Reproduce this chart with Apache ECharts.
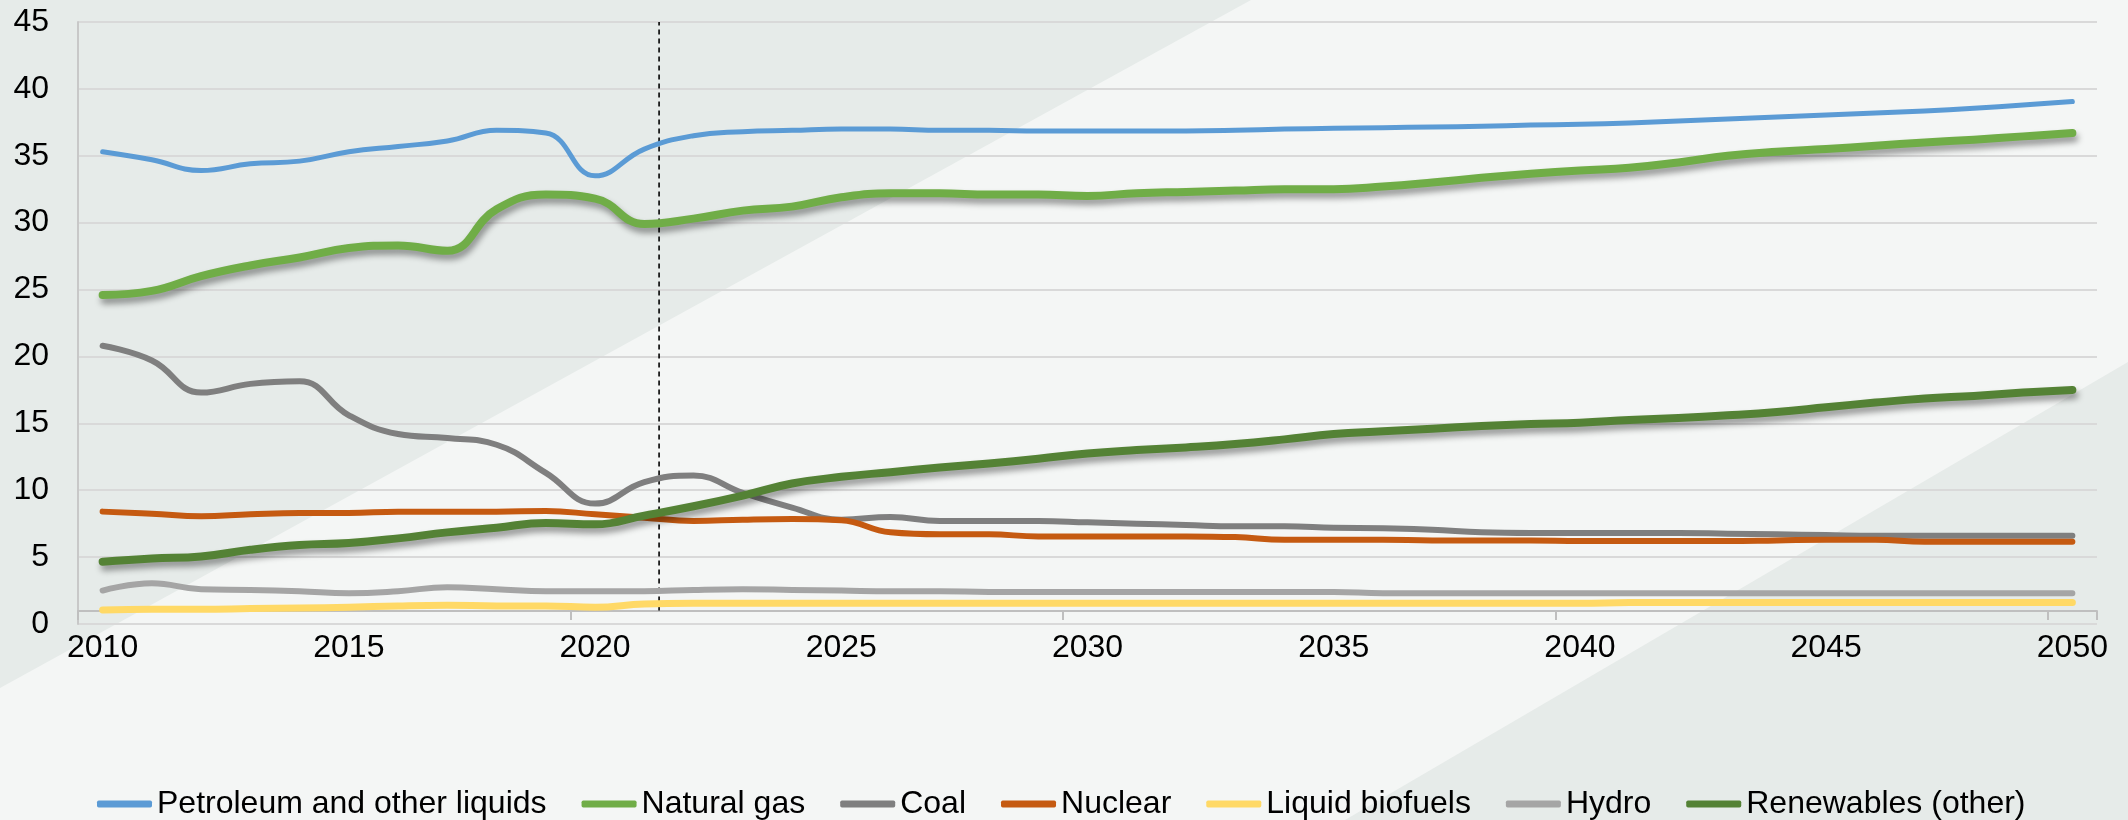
<!DOCTYPE html>
<html>
<head>
<meta charset="utf-8">
<script src="https://cdn.jsdelivr.net/npm/echarts@6/dist/echarts.min.js"></script>
<style>
html,body{margin:0;padding:0;background:#f4f6f5;}
#chart{width:2128px;height:820px;}
</style>
</head>
<body>
<div id="chart"></div>
<script>
const years = [];
for (let y = 2010; y <= 2050; y++) years.push(String(y));

const petroleum = [35.3,34.7,33.9,34.4,34.6,35.3,35.7,36.1,36.9,36.7,33.5,35.5,36.5,36.8,36.9,37.0,37.0,36.9,36.9,36.85,36.85,36.85,36.85,36.9,37.0,37.05,37.1,37.15,37.2,37.3,37.35,37.45,37.6,37.75,37.9,38.05,38.2,38.35,38.55,38.8,39.05];
const naturalGas = [24.6,24.9,26.0,26.8,27.4,28.1,28.3,27.9,31.0,32.1,31.8,29.9,30.3,30.9,31.2,31.9,32.2,32.2,32.1,32.1,32.0,32.2,32.3,32.4,32.5,32.5,32.7,33.0,33.35,33.65,33.9,34.1,34.5,35.0,35.3,35.5,35.75,36.0,36.2,36.45,36.7];
const coal = [20.8,19.7,17.3,17.95,18.15,15.6,14.2,13.9,13.4,11.3,9.0,10.6,11.1,9.8,8.7,7.8,8.0,7.7,7.7,7.7,7.6,7.5,7.4,7.3,7.3,7.2,7.15,7.05,6.85,6.8,6.8,6.8,6.8,6.75,6.7,6.65,6.6,6.6,6.6,6.6,6.6];
const nuclear = [8.4,8.25,8.05,8.2,8.3,8.3,8.4,8.4,8.4,8.45,8.2,7.95,7.7,7.8,7.85,7.75,6.85,6.7,6.7,6.55,6.55,6.55,6.55,6.5,6.3,6.3,6.3,6.25,6.25,6.25,6.2,6.2,6.2,6.2,6.25,6.3,6.3,6.15,6.15,6.15,6.15];
const liquidBiofuels = [1.05,1.1,1.1,1.15,1.2,1.25,1.35,1.4,1.35,1.35,1.25,1.5,1.55,1.55,1.55,1.55,1.55,1.55,1.55,1.55,1.55,1.55,1.55,1.55,1.55,1.55,1.55,1.55,1.55,1.55,1.55,1.6,1.6,1.6,1.6,1.6,1.6,1.6,1.6,1.6,1.6];
const hydro = [2.5,3.05,2.6,2.55,2.45,2.3,2.45,2.75,2.6,2.45,2.45,2.45,2.55,2.6,2.55,2.5,2.45,2.45,2.4,2.4,2.4,2.4,2.4,2.4,2.4,2.4,2.3,2.3,2.3,2.3,2.3,2.3,2.3,2.3,2.3,2.3,2.3,2.3,2.3,2.3,2.3];
const renewables = [4.65,4.9,5.05,5.55,5.9,6.05,6.4,6.85,7.2,7.55,7.45,8.1,8.8,9.6,10.5,11.0,11.35,11.7,12.0,12.35,12.75,13.0,13.2,13.45,13.8,14.2,14.4,14.6,14.8,14.95,15.05,15.25,15.4,15.6,15.85,16.2,16.55,16.85,17.05,17.3,17.5];

const projectionStart = 2021.3;
const projectionRange = [1, 45];

const FONT = "'Liberation Sans', Arial, sans-serif";

const defs = [
  {name:'Petroleum and other liquids', data:petroleum, color:'#5b9bd5', width:5, shadow:false},
  {name:'Natural gas', data:naturalGas, color:'#70ad47', width:8, shadow:true},
  {name:'Coal', data:coal, color:'#7f7f7f', width:6, shadow:false},
  {name:'Nuclear', data:nuclear, color:'#c55a11', width:6, shadow:false},
  {name:'Liquid biofuels', data:liquidBiofuels, color:'#ffd966', width:7, shadow:false},
  {name:'Hydro', data:hydro, color:'#a5a5a5', width:6, shadow:false},
  {name:'Renewables (other)', data:renewables, color:'#548235', width:8, shadow:true}
];

const series = defs.map(d => ({
  name: d.name,
  type: 'line',
  data: d.data,
  smooth: 0.45,
  symbol: 'none',
  color: d.color,
  lineStyle: Object.assign({color: d.color, width: d.width, cap: 'round', join: 'round'},
    d.shadow ? {shadowColor:'rgba(0,0,0,0.4)', shadowBlur:6, shadowOffsetX:2, shadowOffsetY:5} : {}),
  emphasis: {disabled: true}
}));

series.push({
  name: 'projection',
  type: 'line',
  xAxisIndex: 1,
  data: [[projectionStart, projectionRange[0]], [projectionStart, projectionRange[1]]],
  symbol: 'none',
  lineStyle: {color:'#000', width:1.6, type:[5,4]},
  silent: true,
  z: 1
});

const chart = echarts.init(document.getElementById('chart'));
chart.setOption({
  backgroundColor: '#f4f6f5',
  animation: false,
  graphic: [
    {type:'polygon', z:-10, silent:true, shape:{points:[[0,0],[1251,0],[0,688]]}, style:{fill:'#e6ebe9'}},
    {type:'polygon', z:-10, silent:true, shape:{points:[[1345,820],[2128,362],[2128,820]]}, style:{fill:'#e6ebe9'}}
  ],
  grid: {left:78, right:31, top:22, bottom:196, containLabel:false},
  legend: {
    data: defs.map(d => d.name),
    left: 92, top: 783,
    icon: 'roundRect',
    itemWidth: 55, itemHeight: 7, itemGap: 35,
    textStyle: {fontFamily: FONT, fontSize: 32, color: '#000'}
  },
  xAxis: [{
    type: 'category',
    data: years,
    boundaryGap: true,
    offset: -13,
    axisLine: {lineStyle: {color:'#bfbfbf', width:2}},
    axisTick: {show:true, interval:9, length:9, lineStyle:{color:'#bfbfbf', width:2}},
    axisLabel: {interval:4, fontFamily:FONT, fontSize:32, color:'#000', margin:21},
    splitLine: {show:false}
  }, {
    type: 'value', min: 2009.5, max: 2050.5, show: false
  }],
  yAxis: {
    type: 'value', min: 0, max: 45, interval: 5,
    axisLine: {show:true, lineStyle:{color:'#c8c8c8', width:2}},
    axisTick: {show:false},
    axisLabel: {fontFamily:FONT, fontSize:32, color:'#000', margin:29},
    splitLine: {lineStyle:{color:'#d9d9d9', width:2}}
  },
  series: series
});
</script>
</body>
</html>
